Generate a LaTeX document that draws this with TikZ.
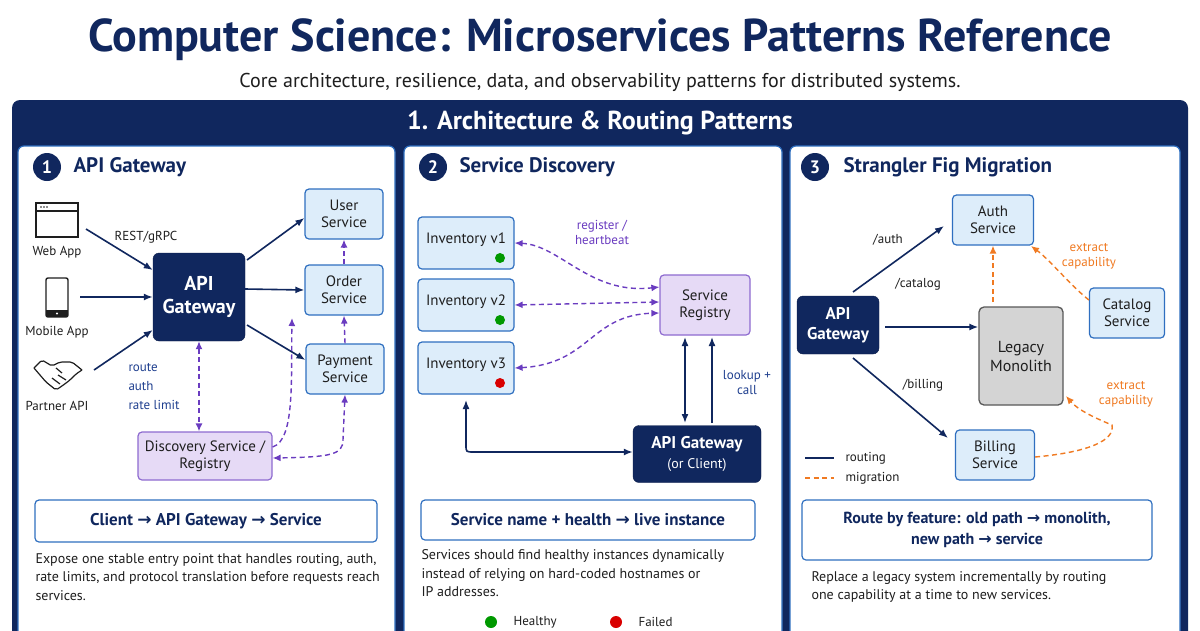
\documentclass[tikz,border=0pt]{standalone}
\usepackage{fontspec}
\setmainfont{PT Sans}
\newfontfamily\arr{DejaVu Sans}
\newcommand{\ra}{{\arr\bfseries →}}
\usetikzlibrary{arrows.meta}
\definecolor{navy}{HTML}{10275E}
\definecolor{bord}{HTML}{2F6FC0}
\definecolor{lb}{HTML}{DDEDFA}
\definecolor{pf}{HTML}{E6DAF6}
\definecolor{pb}{HTML}{8E6BD0}
\definecolor{pl}{HTML}{6A3CC0}
\definecolor{org}{HTML}{F07A22}
\definecolor{txt}{HTML}{1E1E1E}
\definecolor{lbl}{HTML}{1F3F8F}
\begin{document}
\begin{tikzpicture}[x=1pt,y=-1pt,
  svc/.style={draw=bord,line width=1.2pt,fill=lb,rounded corners=4pt,align=center,font=\fontsize{15}{17}\selectfont,text=txt},
  purp/.style={draw=pb,line width=1.2pt,fill=pf,rounded corners=4pt,align=center,font=\fontsize{15}{17}\selectfont,text=txt},
  dk/.style={draw=navy!80!black,fill=navy,rounded corners=6pt,align=center,text=white,font=\bfseries},
  nav/.style={-{Latex[length=9pt,width=7pt]},navy,line width=1.6pt},
  dsh/.style={dash pattern=on 5pt off 3.5pt},
  pd/.style={{Latex[length=8pt,width=7pt]}-{Latex[length=8pt,width=7pt]},pl,dsh,line width=1.4pt},
  pd1/.style={-{Latex[length=8pt,width=7pt]},pl,dsh,line width=1.4pt},
  od/.style={-{Latex[length=8pt,width=7pt]},org,dsh,line width=1.4pt},
  col/.style={draw=bord,line width=1.2pt,fill=white,rounded corners=6pt},
  num/.style={circle,fill=navy,text=white,minimum size=28pt,inner sep=0pt,font=\fontsize{18}{18}\selectfont\bfseries},
  ttl/.style={anchor=west,text=navy,font=\fontsize{21}{22}\selectfont\bfseries},
  sum/.style={draw=bord,line width=1.2pt,rounded corners=4pt,fill=white,align=center,text=navy,font=\fontsize{17}{20}\selectfont\bfseries},
  desc/.style={anchor=north west,align=left,text=txt,font=\fontsize{14}{18.5}\selectfont},
  lab/.style={text=lbl,font=\fontsize{13}{15}\selectfont,align=center},
  sm/.style={text=txt,font=\fontsize{13}{15}\selectfont}]
\useasboundingbox (0,0) rectangle (1200,630);
\fill[white] (0,0) rectangle (1200,630);
\node[text=navy,font=\fontsize{46}{50}\selectfont\bfseries] (title) at (600,40) {Computer Science: Microservices Patterns Reference};
\node[text=txt,font=\fontsize{20}{22}\selectfont] (sub) at (600,82) {Core architecture, resilience, data, and observability patterns for distributed systems.};
\fill[navy,rounded corners=8pt] (12,100) rectangle (1188,660);
\node[text=white,font=\fontsize{26}{28}\selectfont\bfseries] (hdr) at (600,123) {1. Architecture \& Routing Patterns};
\draw[col] (18,146) rectangle (395,660);
\draw[col] (404,146) rectangle (782,660);
\draw[col] (790,146) rectangle (1180,660);
% ---------- column 1
\node[num] (n1) at (47,167) {1};
\node[ttl] (t1) at (70,167) {API Gateway};
\draw[line width=1.4pt,txt,fill=white] (36,203) rectangle (78,237);
\draw[line width=1.4pt,txt] (36,211) -- (78,211);
\foreach \i in {41,44,47}{\fill[txt] (\i,207) circle (0.9pt);}
\node[sm] (web) at (57,252) {Web App};
\draw[line width=1.4pt,txt,fill=white,rounded corners=2pt] (46,278) rectangle (68,317);
\fill[txt] (46,310) rectangle (68,317);
\fill[white] (57,313.5) circle (1.2pt);
\node[sm] (mob) at (57,332) {Mobile App};
\draw[line width=1.2pt,txt,rounded corners=2pt] (34,368) -- (42,360) -- (52,366) -- (60,362) -- (72,362) -- (82,370) (34,368) -- (46,382) -- (56,390) -- (62,386) -- (70,380) -- (76,374) -- (82,370);
\draw[line width=1.2pt,txt] (56,368) -- (62,373) (52,378) -- (60,384) (58,375) -- (66,380);
\node[sm] (par) at (57,406) {Partner API};
\coordinate (wa) at (86,229);
\coordinate (ma) at (80,297);
\coordinate (pa) at (94,370);
\node[dk,minimum width=92pt,minimum height=88pt,font=\fontsize{20}{23}\selectfont\bfseries] (gw) at (199,297) {API\\Gateway};
\node[svc,minimum width=78pt,minimum height=50pt] (us) at (344,214) {User\\Service};
\node[svc,minimum width=78pt,minimum height=50pt] (os) at (344,290) {Order\\Service};
\node[svc,minimum width=78pt,minimum height=50pt] (ps) at (345,369) {Payment\\Service};
\node[purp,minimum width=134pt,minimum height=48pt] (ds) at (205,456) {Discovery Service /\\Registry};
\draw[nav] (wa) -- (gw.west |- 0,270);
\draw[nav] (ma) -- (gw.west |- 0,297);
\draw[nav] (pa) -- (gw.west |- 0,330);
\node[sm] (rest) at (146,237) {REST/gRPC};
\node[lab,anchor=north west,align=left,font=\fontsize{13}{19}\selectfont] (rl) at (125,360) {route\\auth\\rate limit};
\draw[nav] (247,260) -- (us.west |- 0,218);
\draw[nav] (gw.east |- 0,289) -- (os.west);
\draw[nav] (247,325) -- (ps.west |- 0,360);
\draw[pd] (gw.south -| 199,0) -- (ds.north -| 199,0);
\draw[pd1] (os.north) -- (us.south);
\draw[pd1] (ps.north) -- (os.south);
\draw[pd1] (ds.east |- 0,447) .. controls (295,440) and (291,380) .. (292,318);
\draw[pd] (ps.south) -- (343,440) .. controls (343,455) and (330,457) .. (ds.east |- 0,458);
\node[sum,minimum width=342pt,minimum height=42pt] (s1) at (206,521) {Client \ra\ API Gateway \ra\ Service};
\node[desc] (d1) at (32,550) {Expose one stable entry point that handles routing, auth,\\rate limits, and protocol translation before requests reach\\services.};
% ---------- column 2
\node[num] (n2) at (433,167) {2};
\node[ttl] (t2) at (456,167) {Service Discovery};
\node[svc,minimum width=96pt,minimum height=52pt,text depth=10pt] (i1) at (466,243) {Inventory v1};
\node[svc,minimum width=96pt,minimum height=52pt,text depth=10pt] (i2) at (466,305) {Inventory v2};
\node[svc,minimum width=96pt,minimum height=52pt,text depth=10pt] (i3) at (466,368) {Inventory v3};
\fill[green!60!black] (500,258) circle (5pt);
\fill[green!60!black] (500,320) circle (5pt);
\fill[red!85!black] (500,383) circle (5pt);
\node[purp,minimum width=90pt,minimum height=60pt] (sr) at (705,305) {Service\\Registry};
\node[dk,minimum width=128pt,minimum height=57pt,font=\fontsize{17}{20}\selectfont\bfseries] (ag) at (697,454) {API Gateway\\{\mdseries\fontsize{14}{17}\selectfont (or Client)}};
\node[lab,text=pl] (rh) at (602,232) {register /\\heartbeat};
\node[lab] (lc) at (747,383) {lookup +\\call};
\draw[pd] (i1.east) .. controls (560,245) and (590,295) .. (sr.west |- 0,287);
\draw[pd] (i2.east) -- (sr.west |- 0,302);
\draw[pd] (i3.east) .. controls (590,364) and (590,315) .. (sr.west |- 0,313);
\draw[{Latex[length=9pt,width=7pt]}-{Latex[length=9pt,width=7pt]},navy,line width=1.6pt] (685,337) -- (685,423);
\draw[nav] (712,423) -- (712,337);
\draw[{Latex[length=9pt,width=7pt]}-{Latex[length=9pt,width=7pt]},navy,line width=1.6pt] (466,400) -- (466,445) .. controls (466,452) .. (474,452) -- (ag.west |- 0,452);
\node[sum,minimum width=334pt,minimum height=40pt] (s2) at (588,520) {Service name + health \ra\ live instance};
\node[desc] (d2) at (418,546) {Services should find healthy instances dynamically\\instead of relying on hard-coded hostnames or\\IP addresses.};
\fill[green!60!black] (491,622) circle (6pt);
\node[sm,anchor=west] (hl) at (510,622) {Healthy};
\fill[red!85!black] (616,622) circle (6pt);
\node[sm,anchor=west] (fl) at (635,622) {Failed};
% ---------- column 3
\node[num] (n3) at (815,167) {3};
\node[ttl] (t3) at (840,167) {Strangler Fig Migration};
\node[dk,minimum width=82pt,minimum height=58pt,font=\fontsize{17}{20}\selectfont\bfseries] (g3) at (838,325) {API\\Gateway};
\node[svc,minimum width=81pt,minimum height=50pt] (au) at (993,220) {Auth\\Service};
\node[svc,minimum width=75pt,minimum height=50pt] (ca) at (1127,313) {Catalog\\Service};
\node[draw=black!65,line width=1.3pt,fill=black!17,rounded corners=5pt,minimum width=84pt,minimum height=98pt,align=center,font=\fontsize{16}{19}\selectfont,text=txt] (lm) at (1021,356) {Legacy\\Monolith};
\node[svc,minimum width=79pt,minimum height=50pt] (bi) at (995,455) {Billing\\Service};
\draw[nav] (853,292) -- (944,226);
\draw[nav] (885,327) -- (lm.west |- 0,327);
\draw[nav] (853,358) -- (948,438);
\node[sm] (la) at (888,240) {/auth};
\node[sm] (lca) at (918,284) {/catalog};
\node[sm] (lb) at (923,385) {/billing};
\draw[od] (993,302) -- (au.south);
\draw[od] (ca.west |- 0,300) .. controls (1070,285) and (1050,260) .. (1031,246);
\draw[od] (bi.east |- 0,457) .. controls (1090,452) and (1115,440) .. (1112,425) .. controls (1095,418) and (1078,410) .. (1066,396);
\node[text=org,font=\fontsize{13}{15}\selectfont,align=center] (e1) at (1089,256) {extract\\capability};
\node[text=org,font=\fontsize{13}{15}\selectfont,align=center] (e2) at (1126,394) {extract\\capability};
\coordinate (r1) at (805,458); \coordinate (r2) at (834,458);
\draw[navy,line width=1.6pt] (r1) -- (r2);
\node[sm,anchor=west] (rt) at (842,458) {routing};
\coordinate (m1) at (805,478); \coordinate (m2) at (834,478);
\draw[org,dsh,line width=1.5pt] (m1) -- (m2);
\node[sm,anchor=west] (mg) at (842,478) {migration};
\node[sum,minimum width=350pt,minimum height=60pt,font=\fontsize{16}{21}\selectfont\bfseries] (s3) at (977,530) {Route by feature: old path \ra\ monolith,\\new path \ra\ service};
\node[desc] (d3) at (808,568) {Replace a legacy system incrementally by routing\\one capability at a time to new services.};
\end{tikzpicture}
\end{document}
